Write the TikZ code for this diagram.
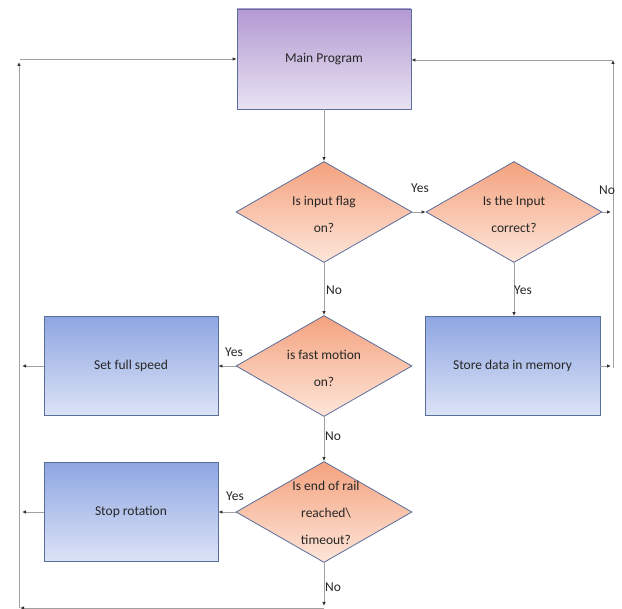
\documentclass[tikz,border=0pt]{standalone}
\usepackage{fontspec}
\setmainfont{Carlito}
\usetikzlibrary{shapes.geometric,arrows.meta}
\definecolor{bordc}{HTML}{5A6E9C}
\definecolor{linec}{HTML}{A0A0A0}
\definecolor{purtop}{HTML}{B39AD2}
\definecolor{purbot}{HTML}{E8E2F2}
\definecolor{blutop}{HTML}{8EA6E2}
\definecolor{blubot}{HTML}{DCE3F6}
\definecolor{ortop}{HTML}{F4A27E}
\definecolor{orbot}{HTML}{FDE6DA}
\definecolor{txtc}{HTML}{262626}
\tikzset{
  lbl/.style={font=\fontsize{13.5}{16}\selectfont, text=txtc, inner sep=1pt},
  mainbox/.style={draw=bordc, line width=0.8pt, top color=purtop, bottom color=purbot, minimum width=174pt, minimum height=100pt, font=\fontsize{13.5}{16}\selectfont, text=txtc},
  bluebox/.style={draw=bordc, line width=0.8pt, top color=blutop, bottom color=blubot, minimum width=174pt, minimum height=99pt, font=\fontsize{13.5}{16}\selectfont, text=txtc},
  dia/.style={shape=diamond, draw=bordc, line width=0.8pt, top color=ortop, bottom color=orbot, minimum width=176pt, minimum height=101pt, inner sep=0pt},
  diatext/.style={align=center, font=\fontsize{13.5}{27}\selectfont, text=txtc, inner sep=0pt},
  conn/.style={draw=linec, line width=0.9pt, -{Latex[length=4pt,width=3.5pt,color=black!80]}},
}
\begin{document}
\begin{tikzpicture}[x=1pt,y=-1pt]
\useasboundingbox (0,0) rectangle (622,609);
% nodes
\node[mainbox] (m) at (324,59) {Main Program};
\node[dia] (d1) at (324,212) {};
\node[diatext] (d1t) at (324,214) {Is input flag\\on?};
\node[dia] (d2) at (514,212) {};
\node[diatext] (d2t) at (514,214) {Is the Input\\correct?};
\node[bluebox, minimum width=175pt] (s) at (512.5,366) {Store data in memory};
\node[dia] (d3) at (324,366) {};
\node[diatext] (d3t) at (324,368) {is fast motion\\on?};
\node[bluebox] (f) at (131,366) {Set full speed};
\node[dia] (d4) at (324,512) {};
\node[diatext] (d4t) at (326,513) {Is end of rail\\reached\textbackslash\\timeout?};
\node[bluebox] (r) at (131,512) {Stop rotation};
% free ends
\coordinate (c2e) at (611,212);
\coordinate (cse) at (611,366);
\coordinate (rbot) at (613,368);
\coordinate (rtop) at (613,60);
\coordinate (rtopl) at (613,60);
\coordinate (fw) at (22,366);
\coordinate (rw) at (22,512);
\coordinate (d4e) at (324,606);
\coordinate (bl) at (324,608);
\coordinate (blend) at (20,608);
\coordinate (lbot) at (19,608);
\coordinate (ltop) at (19,62);
\coordinate (ltopr) at (20,59);
% connectors
\draw[conn] (m.south) -- (d1.north);
\draw[conn] (d1.east) -- (d2.west);
\draw[conn] (d2.east) -- (c2e);
\draw[conn] (rbot) -- (rtop);
\draw[conn] (rtopl) -- (m.east |- rtopl);
\draw[conn] (d2.south) -- (d2.south |- s.north);
\draw[conn] (s.east) -- (cse);
\draw[conn] (d1.south) -- (d3.north);
\draw[conn] (d3.west) -- (f.east);
\draw[conn] (f.west) -- (fw);
\draw[conn] (d3.south) -- (d4.north);
\draw[conn] (d4.west) -- (r.east);
\draw[conn] (r.west) -- (rw);
\draw[conn] (d4.south) -- (d4e);
\draw[conn] (bl) -- (blend);
\draw[conn] (lbot) -- (ltop);
\draw[conn] (ltopr) -- (m.west |- ltopr);
% labels
\node[lbl] (y1) at (420,188) {Yes};
\node[lbl] (n1) at (607,190) {No};
\node[lbl] (y2) at (523,290) {Yes};
\node[lbl] (n2) at (334,290) {No};
\node[lbl] (y3) at (234,352) {Yes};
\node[lbl] (n3) at (333,436) {No};
\node[lbl] (y4) at (235,496) {Yes};
\node[lbl] (n4) at (333,587) {No};
\end{tikzpicture}
\end{document}
